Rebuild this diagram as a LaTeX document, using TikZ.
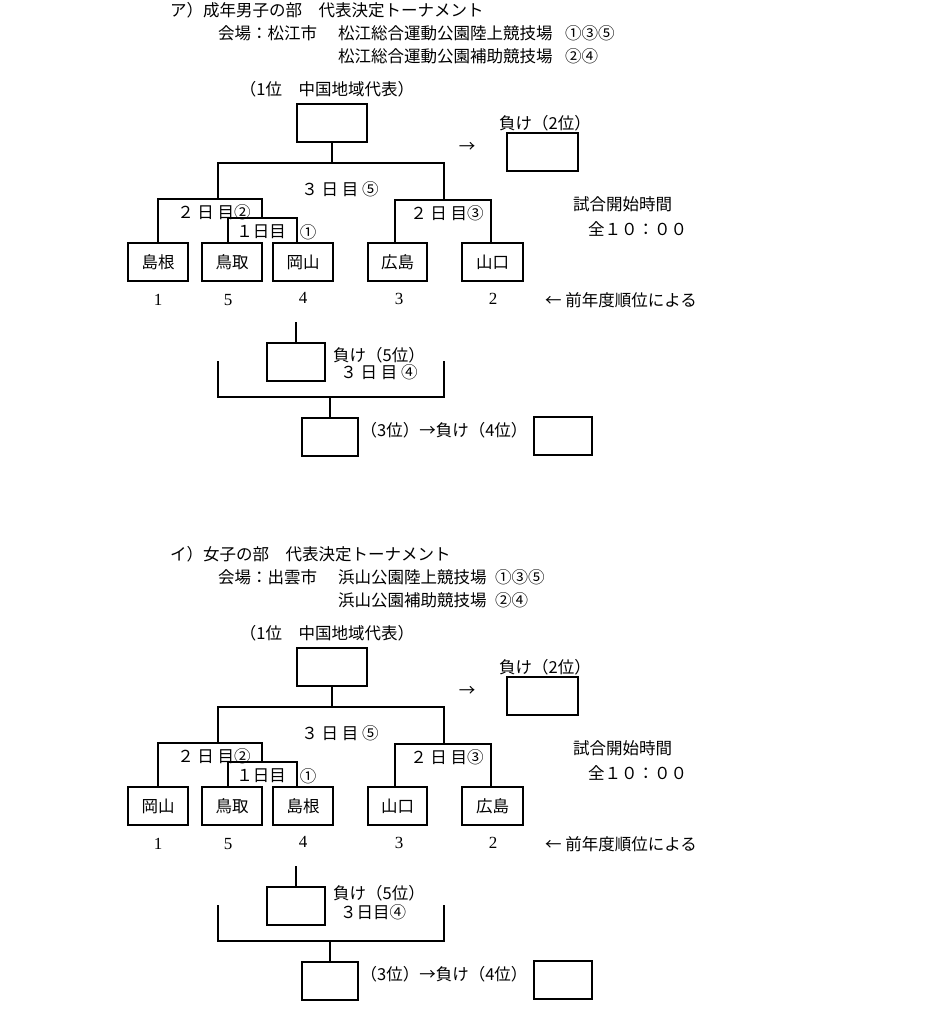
\documentclass[tikz,border=0pt]{standalone}
\usepackage{fontspec}
\setmainfont{Noto Sans CJK JP}
\newfontfamily\latinnum{Liberation Serif}
\tikzset{
  txt/.style={inner sep=0pt, font=\fontsize{16.5}{18}\selectfont},
  numtxt/.style={inner sep=0pt, font=\fontsize{17}{19}\selectfont\latinnum},
  teambox/.style={draw, line width=2pt, minimum width=60pt, minimum height=38pt, inner sep=0pt, font=\fontsize{16.5}{18}\selectfont},
  blankbox/.style={draw, line width=2pt, minimum height=38pt, inner sep=0pt},
  link/.style={line width=2pt, line cap=rect}
}
\newcommand{\drawtourney}[1]{%
  % header
  \node[txt, anchor=west] (#1title) at (170,10) {\TTitle};
  \node[txt, anchor=west] (#1va) at (218,33) {会場：\TCity};
  \node[txt, anchor=west] (#1vb) at (338,33) {\TVenueA};
  \node[txt, anchor=west] (#1vc) at (\TCircX,33) {①③⑤};
  \node[txt, anchor=west] (#1vd) at (338,56) {\TVenueB};
  \node[txt, anchor=west] (#1ve) at (\TCircX,56) {②④};
  % final
  \node[txt] (#1firstlbl) at (327,89) {（1位　中国地域代表）};
  \node[blankbox, minimum width=70pt] (#1win) at (332,123) {};
  \node[txt] (#1arrow) at (467,147) {→};
  \node[txt] (#1secondlbl) at (545,123) {負け（2位）};
  \node[blankbox, minimum width=71pt] (#1second) at (542.5,152) {};
  % teams
  \node[teambox] (#1t1) at (158,262) {\TA};
  \node[teambox] (#1t2) at (232,262) {\TB};
  \node[teambox] (#1t3) at (303,262) {\TC};
  \node[teambox, minimum width=59pt] (#1t4) at (397.5,262) {\TD};
  \node[teambox, minimum width=61pt] (#1t5) at (492.5,262) {\TE};
  % bracket corners
  \coordinate (#1fL) at (218,163);
  \coordinate (#1fR) at (444,163);
  \coordinate (#1sL) at (218,199);
  \coordinate (#1sR) at (444,200);
  \coordinate (#1aL) at (158,199);
  \coordinate (#1aR) at (262,199);
  \coordinate (#1qL) at (228,218);
  \coordinate (#1qR) at (297,218);
  \coordinate (#1bL) at (395,200);
  \coordinate (#1bR) at (491,200);
  % final bracket
  \draw[link] (#1win.south) -- (#1win.south |- #1fL);
  \draw[link] (#1sL) -- (#1fL) -- (#1fR) -- (#1sR);
  % left semifinal
  \draw[link] (#1t1.north) -- (#1aL) -- (#1aR) -- (#1aR |- #1qL);
  % first round
  \draw[link] ([xshift=-4pt]#1t2.north) -- (#1qL) -- (#1qR) -- ([xshift=-6pt]#1t3.north);
  % right semifinal
  \draw[link] ([xshift=-2.5pt]#1t4.north) -- (#1bL) -- (#1bR) -- ([xshift=-1.5pt]#1t5.north);
  % labels
  \node[txt] (#1d5) at (340,189) {３ 日 目 ⑤};
  \node[txt] (#1d2) at (214,212) {２ 日 目②};
  \node[txt] (#1d1) at (261,232) {１日目};
  \node[txt] (#1c1) at (308,232) {①};
  \node[txt] (#1d3) at (447,213) {２ 日 目③};
  \node[txt, anchor=west] (#1time) at (573,204) {試合開始時間};
  \node[txt, anchor=west] (#1timeb) at (588,229) {全１０：００};
  \node[numtxt] (#1n1) at (158,300) {1};
  \node[numtxt] (#1n2) at (228,300) {5};
  \node[numtxt] (#1n3) at (303,298) {4};
  \node[numtxt] (#1n4) at (399,299) {3};
  \node[numtxt] (#1n5) at (493,299) {2};
  \node[txt, anchor=west] (#1prev) at (545,300) {←\ 前年度順位による};
  % placement matches
  \coordinate (#1stub) at (296,323);
  \node[blankbox, minimum width=58pt] (#1fifth) at (296,362) {};
  \draw[link] (#1stub) -- (#1fifth.north);
  \node[txt, anchor=west] (#1fifthlbl) at (333,\TFiveY) {負け（5位）};
  \node[txt] (#1d4) at (\TDayFourX,\TDayFourY) {\TDayFour};
  \coordinate (#1cLt) at (218,362);
  \coordinate (#1cRt) at (444,362);
  \coordinate (#1cL) at (218,397);
  \coordinate (#1cR) at (444,397);
  \node[blankbox, minimum width=56pt] (#1third) at (330,437) {};
  \draw[link] (#1cLt) -- (#1cL) -- (#1cR) -- (#1cRt);
  \draw[link] (#1third.north |- #1cL) -- (#1third.north);
  \node[txt] (#1thirdlbl) at (444,430) {（3位）→負け（4位）};
  \node[blankbox, minimum width=58pt] (#1fourth) at (563,436) {};
}
\begin{document}
\begin{tikzpicture}[x=1pt,y=-1pt]
\fill[white] (0,0) rectangle (933,1024);
\useasboundingbox (0,0) rectangle (933,1024);
\begin{scope}
  \def\TTitle{ア）成年男子の部　代表決定トーナメント}
  \def\TCity{松江市}
  \def\TVenueA{松江総合運動公園陸上競技場}
  \def\TVenueB{松江総合運動公園補助競技場}
  \def\TCircX{565}
  \def\TA{島根}\def\TB{鳥取}\def\TC{岡山}\def\TD{広島}\def\TE{山口}
  \def\TFiveY{355}
  \def\TDayFour{３ 日 目 ④}
  \def\TDayFourX{379}
  \def\TDayFourY{372}
  \drawtourney{a}
\end{scope}
\begin{scope}[yshift=-544pt]
  \def\TTitle{イ）女子の部　代表決定トーナメント}
  \def\TCity{出雲市}
  \def\TVenueA{浜山公園陸上競技場}
  \def\TVenueB{浜山公園補助競技場}
  \def\TCircX{495}
  \def\TA{岡山}\def\TB{鳥取}\def\TC{島根}\def\TD{山口}\def\TE{広島}
  \def\TFiveY{349}
  \def\TDayFour{３日目④}
  \def\TDayFourX{373}
  \def\TDayFourY{368}
  \drawtourney{b}
\end{scope}
\end{tikzpicture}
\end{document}
